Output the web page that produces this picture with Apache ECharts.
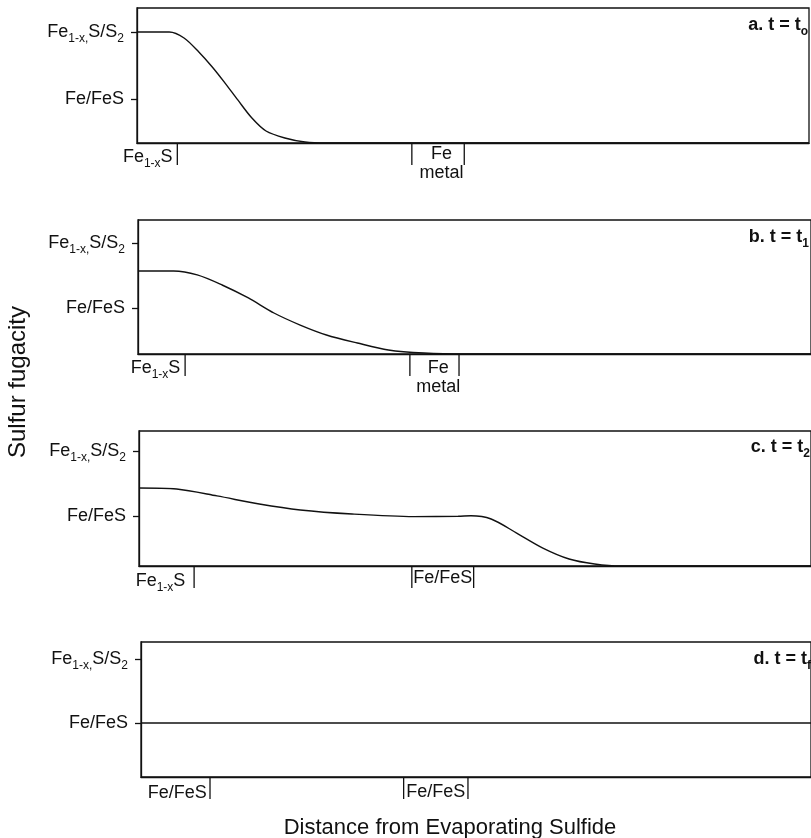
<!DOCTYPE html>
<html>
<head>
<meta charset="utf-8">
<script src="https://cdn.jsdelivr.net/npm/echarts@6/dist/echarts.min.js"></script>
<style>
html,body{margin:0;padding:0;background:#fff;}
#chart{width:811px;height:838px;}
</style>
</head>
<body>
<div id="chart"></div>
<script>
// ---- data (x: distance 0..100 across panel, y: relative sulfur fugacity 0..100) ----
const curveA = [[0,82.2],[4.8,82.2],[7.0,77.8],[9.2,67.4],[11.2,56.3],[13.1,44.4],[15.0,31.9],[17.1,18.5],[19.2,8.9],[22.0,3.7],[25.0,0.7],[28.1,0],[100,0]];
const curveB = [[0,61.9],[5.3,61.9],[8.8,59.0],[12.5,51.5],[16.4,41.8],[20.2,30.6],[24.1,21.6],[28.0,14.2],[32.6,8.2],[37.2,3.0],[42.5,0.7],[48.7,0],[100,0]];
const curveC = [[0,57.8],[5.6,57.0],[11.6,51.9],[17.9,45.9],[24.0,41.5],[31.7,38.5],[40.9,36.6],[47.5,36.8],[49.4,37.2],[52.4,34.8],[56.2,24.4],[60.1,13.3],[64.0,5.2],[67.8,1.5],[71.7,0],[100,0]];
const curveD = [[0,40],[100,40]];

// y tick levels per panel: [Fe/FeS, Fe1-xS/S2]
const yLevelsA = [32.6, 82.2];
const yLevelsB = [34.3, 82.8];
const yLevelsC = [37.0, 85.2];
const yLevelsD = [40.0, 87.4];
const yTickLabels = ['Fe/FeS', 'Fe{s|1-x,}S/S{s|2}'];

// x marker ticks (phase boundaries) per panel
const xTicksA = [6.0, 40.9, 48.7];
const xTicksB = [7.0, 40.4, 47.7];
const xTicksC = [8.2, 40.6, 49.8];
const xTicksD = [10.3, 39.2, 48.8];

// x phase labels per panel and their anchor positions
const xLabelsA = ['Fe{s|1-x}S', 'Fe\nmetal'];
const xLabelsB = ['Fe{s|1-x}S', 'Fe\nmetal'];
const xLabelsC = ['Fe{s|1-x}S', 'Fe/FeS'];
const xLabelsD = ['Fe/FeS', 'Fe/FeS'];
const xLabelAtA = [1.6, 45.3];
const xLabelAtB = [2.6, 44.6];
const xLabelAtC = [3.2, 45.2];
const xLabelAtD = [5.4, 44.0];

const panelTitles = ['a. t = t{s|o}', 'b. t = t{s|1}', 'c. t = t{s|2}', 'd. t = t{s|f}'];
const yTitle = 'Sulfur fugacity';
const xTitle = 'Distance from Evaporating Sulfide';

// ---- layout ----
const FONT = '"Liberation Sans", Arial, Helvetica, sans-serif';
const INK = '#111';
const grids = [
  {left:137, top:8, width:672, height:135},
  {left:138, top:220, width:674, height:134},
  {left:139, top:431, width:673, height:135},
  {left:141, top:642, width:671, height:135}
];
const labelDy = [[14, 20.5], [14, 23.5], [15.5, 12], [16, 15]];
const titlePos = [{right:3, top:13}, {right:2, top:225}, {right:1, top:435}, {right:0, top:647}];
const TICK_LEN = 22;

const curves = [curveA, curveB, curveC, curveD];
const yLevels = [yLevelsA, yLevelsB, yLevelsC, yLevelsD];
const xTicks = [xTicksA, xTicksB, xTicksC, xTicksD];
const xLabels = [xLabelsA, xLabelsB, xLabelsC, xLabelsD];
const xLabelAt = [xLabelAtA, xLabelAtB, xLabelAtC, xLabelAtD];

const subRich = {s:{fontSize:12, fontFamily:FONT, color:INK, padding:[13,0,0,0]}};

const option = {
  animation:false,
  backgroundColor:'#fff',
  textStyle:{fontFamily:FONT, color:INK},
  grid: grids.map(g => Object.assign({show:true, borderColor:INK, borderWidth:1.3, backgroundColor:'transparent'}, g)),
  xAxis: grids.map((g, i) => ({
    type:'value', gridIndex:i, min:0, max:100,
    axisLine:{show:true, onZero:false, lineStyle:{color:INK, width:1.3}},
    axisTick:{show:false}, axisLabel:{show:false}, splitLine:{show:false}
  })),
  yAxis: grids.map((g, i) => ({
    type:'value', gridIndex:i, min:0, max:100,
    axisLine:{show:true, onZero:false, lineStyle:{color:INK, width:1.3}},
    splitLine:{show:false},
    axisTick:{show:true, inside:false, length:6, customValues:yLevels[i], lineStyle:{color:INK, width:1.3}},
    axisLabel:{
      show:true, margin:13, customValues:yLevels[i],
      fontSize:18, fontFamily:FONT, color:INK,
      formatter:(v) => {
        const k = yLevels[i].findIndex(l => Math.abs(l - v) < 0.01);
        return k >= 0 ? yTickLabels[k] : '';
      },
      rich: subRich
    }
  })),
  title: panelTitles.map((t, i) => Object.assign({
    text:t, padding:0,
    textStyle:{fontSize:18, fontWeight:'bold', fontFamily:FONT, color:INK,
      rich:{s:{fontSize:12, fontWeight:'bold', fontFamily:FONT, color:INK, padding:[13,0,0,0]}}}
  }, titlePos[i])),
  graphic:[
    {type:'text', x:18, y:382, rotation:Math.PI/2,
      style:{text:yTitle, font:'24px ' + FONT, fill:INK, align:'center', verticalAlign:'middle', textAlign:'center', textVerticalAlign:'middle'}},
    {type:'text', x:450, y:828,
      style:{text:xTitle, font:'22px ' + FONT, fill:INK, align:'center', verticalAlign:'middle', textAlign:'center', textVerticalAlign:'middle'}}
  ],
  series: []
};

curves.forEach((c, i) => {
  option.series.push({
    type:'line', xAxisIndex:i, yAxisIndex:i, data:c, showSymbol:false, symbol:'none',
    smooth:0.3, silent:true,
    lineStyle:{color:INK, width:1.4}
  });
  option.series.push({
    type:'custom', xAxisIndex:i, yAxisIndex:i, silent:true, clip:false,
    data: xTicks[i].map(v => [v, 0]),
    renderItem:(params, api) => {
      const p = api.coord([api.value(0), 0]);
      return {type:'line', shape:{x1:p[0], y1:p[1], x2:p[0], y2:p[1] + TICK_LEN},
        style:{stroke:INK, lineWidth:1.3}};
    }
  });
  option.series.push({
    type:'custom', xAxisIndex:i, yAxisIndex:i, silent:true, clip:false,
    data: xLabelAt[i].map(v => [v, 0]),
    renderItem:(params, api) => {
      const k = params.dataIndex;
      const p = api.coord([api.value(0), 0]);
      return {type:'text', x:p[0], y:p[1] + labelDy[i][k],
        style:{text:xLabels[i][k], font:'18px ' + FONT, fill:INK, lineHeight:19,
          align:'center', verticalAlign:'middle', textAlign:'center', textVerticalAlign:'middle',
          rich:{s:{font:'12px ' + FONT, fill:INK, padding:[13,0,0,0]}}}};
    }
  });
});

const chart = echarts.init(document.getElementById('chart'), null, {renderer:'canvas'});
chart.setOption(option);
</script>
</body>
</html>
